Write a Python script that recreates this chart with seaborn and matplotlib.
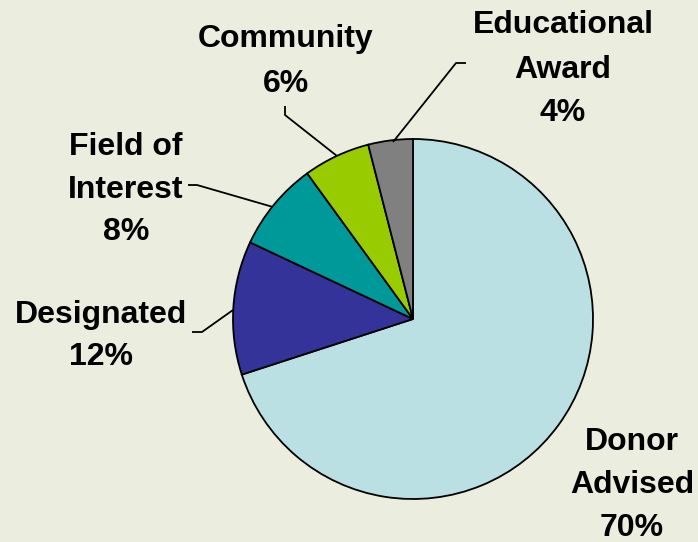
import matplotlib
matplotlib.use("Agg")
import matplotlib.pyplot as plt
import seaborn as sns

categories = ["Donor Advised", "Designated", "Field of Interest", "Community", "Educational Award"]
values = [70, 12, 8, 6, 4]
label_lines = [["Donor", "Advised", "70%"],
               ["Designated", "12%"],
               ["Field of", "Interest", "8%"],
               ["Community", "6%"],
               ["Educational", "Award", "4%"]]
colors = ["#BBE0E3", "#333399", "#009999", "#99CC00", "#808080"]

sns.set_style("white")
plt.rcParams["font.family"] = ["Liberation Sans", "DejaVu Sans"]

W, H = 698, 542
BG = "#EBEEDF"
fig = plt.figure(figsize=(W / 100, H / 100), dpi=100, facecolor=BG)
ax = fig.add_axes([0, 0, 1, 1])
ax.set_facecolor(BG)

def Y(y):
    return H - y

ax.pie(values, colors=colors, startangle=90, counterclock=False,
       center=(413, Y(319)), radius=180, frame=True,
       wedgeprops=dict(edgecolor="black", linewidth=1.3))
ax.set_xlim(0, W)
ax.set_ylim(0, H)
ax.set_aspect("equal")
ax.axis("off")

# label placement (x center, baselines in image pixels)
label_pos = {
    "Donor Advised": (632, [450, 493, 536]),
    "Designated": (101, [323, 365]),
    "Field of Interest": (126, [155, 198, 240]),
    "Community": (286, [47, 92]),
    "Educational Award": (563, [33, 78, 121]),
}
for cat, lines in zip(categories, label_lines):
    x, bases = label_pos[cat]
    for txt, b in zip(lines, bases):
        ax.text(x, Y(b), txt, ha="center", va="baseline", fontsize=23,
                fontweight="bold", color="black", clip_on=False)

leaders = [
    [(192, 332), (202, 332), (233, 310)],
    [(188, 185), (197, 185), (273, 207)],
    [(285, 106), (285, 115), (337, 156)],
    [(466, 63), (456, 63), (393, 142)],
]
for pts in leaders:
    xs = [p[0] for p in pts]
    ys = [Y(p[1]) for p in pts]
    ax.plot(xs, ys, color="black", linewidth=1.3, solid_capstyle="butt")

fig.savefig("out.png", dpi=100, facecolor=BG)
